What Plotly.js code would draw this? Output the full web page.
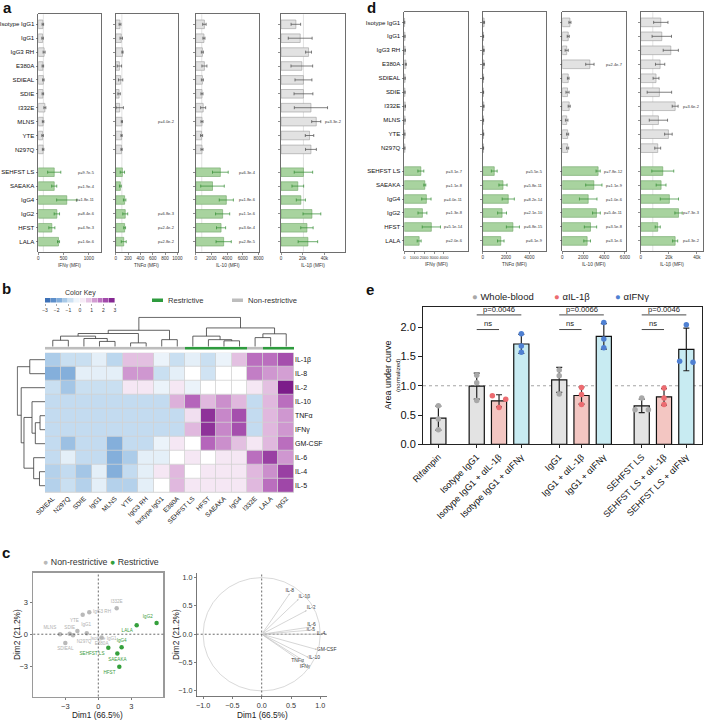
<!DOCTYPE html>
<html><head><meta charset="utf-8">
<script src="https://cdn.plot.ly/plotly-3.0.1.min.js"></script>
<style>html,body{margin:0;padding:0;background:#fff;}#chart{width:705px;height:721px;}</style>
</head><body><div id="chart"></div>
<script>
// ================= DATA =================
const E = '';
// Panels a & d rows (top to bottom)
const variants = ['Isotype IgG1','IgG1','IgG3 RH','E380A','SDIEAL','SDIE','I332E','MLNS','YTE','N297Q','SEHFST LS','SAEAKA','IgG4','IgG2','HFST','LALA'];
const restrictive = [0,0,0,0,0,0,0,0,0,0,1,1,1,1,1,1];

// Panel a (MFI mean, SD, p-values)
const aIFNg   = [90,85,115,90,100,90,130,95,85,95, 315,315,563,367,268,400];
const aIFNgSD = [15,15,20,15,15,15,20,15,15,15, 130,50,200,53,60,20];
const aIFNgP  = [E,E,E,E,E,E,E,E,E,E,'p=9.7e-5','p=1.9e-4','p=1.8e-11','p=8.4e-6','p=4.9e-3','p=1.6e-6'];
const aTNFa   = [70,90,110,60,80,55,65,100,95,95, 108,76,145,155,145,130];
const aTNFaSD = [15,20,10,35,35,20,60,10,10,10, 35,15,20,40,15,40];
const aTNFaP  = [E,E,E,E,E,E,E,'p=4.0e-2',E,E, E,E,E,'p=6.8e-3','p=2.4e-2','p=2.8e-2'];
const aIL10   = [1110,1050,850,1110,850,800,950,800,750,800, 3140,2140,3900,3430,3230,3560];
const aIL10SD = [220,130,130,320,130,130,320,130,130,130, 1000,1500,900,900,580,970];
const aIL10P  = [E,E,E,E,E,E,E,E,E,E,'p=6.3e-4',E,'p=1.8e-6','p=1.1e-6','p=3.6e-4','p=2.8e-5'];
const aIL1b   = [13700,17700,25400,19200,20700,20700,27600,32500,26300,27600, 20700,15500,18300,28500,23900,24800];
const aIL1bSD = [4400,11000,2700,10000,7800,8700,15300,4200,3900,5000, 8500,5400,4200,8200,5700,9000];
const aIL1bP  = [E,E,E,E,E,E,E,'p=3.3e-2',E,E, E,E,E,E,E,E];

// Panel d
const dIFNg   = [30,60,80,150,70,60,90,70,50,50, 1670,2070,2230,1830,2730,1500];
const dIFNgSD = [20,20,30,60,20,20,30,20,20,20, 300,100,470,450,920,200];
const dIFNgP  = [E,E,E,E,E,E,E,E,E,E,'p=3.1e-7','p=1.1e-8','p=4.0e-11','p=1.3e-8','p=5.1e-14','p=2.0e-6'];
const dTNFa   = [120,60,100,110,60,60,90,60,70,60, 990,1740,2190,1660,2590,1550];
const dTNFaSD = [40,20,30,40,20,20,30,20,20,20, 250,350,520,380,560,280];
const dTNFaP  = [E,E,E,E,E,E,E,E,E,E,'p=5.5e-5','p=5.8e-11','p=8.2e-14','p=2.1e-10','p=6.8e-15','p=6.1e-9'];
const dIL10   = [730,570,420,2640,570,500,660,420,510,510, 3430,3020,2480,3270,2700,2380];
const dIL10SD = [100,100,150,400,80,150,100,120,100,100, 200,780,840,370,590,320];
const dIL10P  = [E,E,E,'p=2.4e-7',E,E,E,E,E,E,'p=7.8e-12','p=1.1e-9','p=1.0e-6','p=5.4e-11','p=3.5e-8','p=3.1e-6'];
const dIL1b   = [14300,15000,21400,13800,10900,13300,24500,12600,19700,12100, 15700,14500,20400,26900,12100,24500];
const dIL1bSD = [5100,6900,5400,3300,2100,8700,2100,6500,2700,2100, 7800,3500,6500,2600,1800,1800];
const dIL1bP  = [E,E,E,E,E,E,'p=3.6e-2',E,E,E, E,E,E,'p=7.3e-3',E,'p=4.3e-2'];

// reference (control) lines
const refA = [100, 100, 770, 20700];
const refD = [null, null, null, 8600];

// x tick values
const ticksIFNgA = [0,500,1000], ticksTNFaA = [0,200,400,600,800,1000], ticksIL10A = [0,2000,4000,6000,8000], ticksIL1bA = [0,20000,40000];
const ticksIFNgD = [0,1000,2000,3000,4000], ticksTNFaD = [0,2000,4000], ticksIL10D = [0,2000,4000,6000], ticksIL1bD = [0,20000,40000];

// Panel b heatmap (z-scores)
const hmCols = ['SDIEAL','N297Q','SDIE','IgG1','MLNS','YTE','IgG3 RH','Isotype IgG1','E380A','SEHFST LS','HFST','SAEAKA','IgG4','I332E','LALA','IgG2'];
const hmGroup = [0,0,0,0,0,0,0,0,0,1,1,1,1,0,1,1];
const hmRows = ['IL-1β','IL-8','IL-2','IL-10','TNFα','IFNγ','GM-CSF','IL-6','IL-4','IL-5'];
const hmZ = [
 [-1.2,-0.8,-0.8,-0.4,-1.0, 0.8, 0.8,-0.3,-0.8,-0.4,-0.8,-0.3, 0.8, 1.8, 1.8, 2.2],
 [-1.7,-1.7,-0.4,-0.4,-0.4, 1.3, 1.3,-0.8,-0.4, 0.0,-0.7, 0.0, 0.0, 1.6, 1.3, 1.2],
 [-0.8,-1.3,-0.8,-0.8,-0.8, 0.3, 0.3,-0.3, 0.3,-0.3, 0.0, 0.0, 0.0, 0.3, 0.8, 2.9],
 [-0.9,-0.9,-0.9,-0.9,-0.9,-0.9,-0.9,-0.9, 1.0, 1.9, 0.9, 1.4, 0.9,-0.9, 0.9, 1.8],
 [-0.9,-0.9,-0.9,-0.9,-0.9,-0.9,-0.9,-0.9,-0.9, 0.4, 2.6, 1.5, 2.2,-0.9, 0.9, 1.3],
 [-0.9,-0.9,-0.9,-0.9,-0.9,-0.9,-0.9,-0.9,-0.9, 0.9, 2.6, 1.5, 2.2,-0.9, 0.9, 1.3],
 [-0.9,-1.4,-0.9,-0.9,-1.7,-0.9,-0.9,-0.3, 0.3, 0.0, 1.9, 1.4, 0.8, 0.3, 0.9, 1.8],
 [-0.9,-0.4,-0.9,-0.9,-1.7,-1.2,-0.4,-0.4, 0.0, 0.3, 0.0, 0.3, 0.3, 1.8, 2.4, 1.3],
 [-1.1,-0.9,-1.3,-0.4,-1.7,-0.9,-0.4, 0.3, 0.9, 0.0, 0.3, 0.3, 0.3, 0.9, 1.4, 2.4],
 [-1.1,-0.8,-1.1,-0.4,-1.1,-1.1,-0.4, 0.0, 0.9, 0.3, 0.3, 0.3, 0.3, 0.9, 1.8, 2.3]
];
// dendrograms: [childA, childB, height]; leaves 0..n-1, merges n+k
const colMerges = [[3,4,0.18],[0,1,0.22],[2,16,0.28],[17,18,0.36],[5,6,0.13],[7,8,0.24],[19,20,0.45],[22,21,0.56],
                   [11,12,0.2],[10,24,0.24],[9,25,0.36],[13,14,0.31],[27,15,0.44],[26,28,0.64],[23,29,1.0]];
const rowMerges = [[4,5,0.18],[10,6,0.35],[3,11,0.47],[8,9,0.2],[7,13,0.41],[12,14,0.76],[2,15,0.86],[0,1,0.55],[17,16,1.0]];
const keyLevels = [-2.75,-2.25,-1.75,-1.25,-0.75,-0.25,0.25,0.75,1.25,1.75,2.25,2.75];
const keyTicks = [-3,-2,-1,0,1,2,3];

// Panel c: PCA
const pcaNames = ['I332E','IgG3 RH','YTE','IgG1','MLNS','SDIE','N297Q','Isotype IgG1','SDIEAL','E380A','IgG2','LALA','IgG4','SEHFST LS','SAEAKA','HFST'];
const pcaGroup = [0,0,0,0,0,0,0,0,0,0,1,1,1,1,1,1];
const pcaDim1 = [1.67,-0.82,-1.42,-1.9,-3.48,-2.6,-2.3,-1.05,-3.0,0.3, 5.3,3.49,2.12,0.91,1.73,1.91];
const pcaDim2 = [2.42,2.06,1.82,0.3,0.0,0.05,-0.1,0.1,-0.82,-0.3, 1.06,0.85,-1.21,-1.27,-1.79,-3.03];
const loadNames = ['IL-8','IL-1β','IL-2','IL-6','IL-5','IL-4','GM-CSF','IL-10','TNFα','IFNγ'];
const loadDim1 = [0.48,0.63,0.77,0.85,0.91,0.94,0.94,0.80,0.72,0.74];
const loadDim2 = [0.72,0.62,0.42,0.13,0.08,0.0,-0.27,-0.41,-0.47,-0.53];
const c1Ticks = [-3,0,3], c2Ticks = [-1,-0.5,0,0.5,1];

// Panel e
const eAntibody  = ['Rifampin','Isotype IgG1','Isotype IgG1','Isotype IgG1','IgG1','IgG1','IgG1','SEHFST LS','SEHFST LS','SEHFST LS'];
const eTreatment = ['Whole-blood','Whole-blood','αIL-1β','αIFNγ','Whole-blood','αIL-1β','αIFNγ','Whole-blood','αIL-1β','αIFNγ'];
const ePoints = [[0.66,0.43,0.25],[1.18,1.05,0.75],[0.83,0.63,0.77],[1.89,1.68,1.57],[1.27,1.17,0.86],
                 [0.97,0.85,0.68],[2.08,1.80,1.65],[0.79,0.59,0.59],[0.96,0.79,0.68],[2.04,1.42,1.40]];
const cmpAntibody = ['Isotype IgG1','IgG1','SEHFST LS'];
const cmpP = ['p=0.0046','p=0.0066','p=0.0046'];
const cmpNs = ['ns','ns','ns'];
const eTicks = [0,0.5,1,1.5,2];

// ================= BUILD =================
const W = 705, H = 721;
const FONT = 'Arial, "Liberation Sans", Helvetica, sans-serif';
const xd = (a,b) => [a/W, b/W];
const yd = (t,b) => [1-b/H, 1-t/H];
const px = x => x/W, py = y => 1-y/H;
const traces = [], annotations = [], shapes = [];
const layout = {width:W, height:H, margin:{l:0,r:0,t:0,b:0}, paper_bgcolor:'#fff', plot_bgcolor:'rgba(0,0,0,0)',
  font:{family:FONT, color:'#222'}, showlegend:false, barmode:'overlay', hovermode:false, annotations, shapes};
const ax = n => n===1 ? '' : String(n);
function ann(o){ const f = Object.assign({family:FONT,size:7,color:'#222'}, o.font||{}); annotations.push(Object.assign({showarrow:false}, o, {font:f})); }

// ---- panels a & d ----
const rowPos = variants.map((_, i) => i < 10 ? i : i + 0.64);
const yRange = [16.36, -0.72];
const panels = [
 {n:1, v:aIFNg, sd:aIFNgSD, p:aIFNgP, r:[0,1240], t:ticksIFNgA, title:'IFNγ (MFI)', box:[38.3,101,14.3,251.7], lab:true, pR:0.93, ref:refA[0]},
 {n:2, v:aTNFa, sd:aTNFaSD, p:aTNFaP, r:[0,1010], t:ticksTNFaA, title:'TNFα (MFI)', box:[115.7,178,14.3,251.7], pR:0.985, ref:refA[1]},
 {n:3, v:aIL10, sd:aIL10SD, p:aIL10P, r:[0,8100], t:ticksIL10A, title:'IL-10 (MFI)', box:[195.7,259.3,14.3,251.7], pR:0.985, ref:refA[2]},
 {n:4, v:aIL1b, sd:aIL1bSD, p:aIL1bP, r:[0,59000], t:ticksIL1bA, title:'IL-1β (MFI)', box:[281,345,14.3,251.7], pR:0.985, ref:refA[3]},
 {n:5, v:dIFNg, sd:dIFNgSD, p:dIFNgP, r:[0,6400], t:ticksIFNgD, title:'IFNγ (MFI)', box:[404.3,467.7,12.3,251], lab:true, pR:0.96, ref:refD[0], tf:4},
 {n:6, v:dTNFa, sd:dTNFaSD, p:dTNFaP, r:[0,5400], t:ticksTNFaD, title:'TNFα (MFI)', box:[482.7,545.7,12.3,251], pR:0.985, ref:refD[1]},
 {n:7, v:dIL10, sd:dIL10SD, p:dIL10P, r:[0,6100], t:ticksIL10D, title:'IL-10 (MFI)', box:[562.3,626,12.3,251], pR:0.985, ref:refD[2]},
 {n:8, v:dIL1b, sd:dIL1bSD, p:dIL1bP, r:[0,44300], t:ticksIL1bD, title:'IL-1β (MFI)', box:[640.7,703,12.3,251], pR:0.99, ref:refD[3]}
];
panels.forEach(P => {
  const xa = 'x'+ax(P.n), ya = 'y'+ax(P.n);
  const groups = [[0,'#e2e2e2','#9c9c9c','#4a4a4a'],[1,'#a8d39f','#6ea566','#2f8a2f']];
  groups.forEach(([g,fill,line,err]) => {
    const ids = variants.map((_,i)=>i).filter(i => restrictive[i]===g);
    traces.push({type:'bar', orientation:'h', x:ids.map(i=>P.v[i]), y:ids.map(i=>rowPos[i]), width:0.62,
      marker:{color:fill, line:{color:line, width:0.6}},
      error_x:{type:'data', array:ids.map(i=>P.sd[i]), color:err, thickness:0.7, width:1.5},
      xaxis:xa, yaxis:ya, hoverinfo:'skip'});
  });
  layout['xaxis'+ax(P.n)] = {domain:xd(P.box[0],P.box[1]), range:P.r, tickvals:P.t, tickangle:0, ticks:'outside', ticklen:2, tickwidth:0.6,
    tickcolor:'#444', tickfont:{size:P.tf||4.6,color:'#333'}, showline:true, mirror:true, linecolor:'#4a4a4a', linewidth:0.8,
    showgrid:false, zeroline:false, anchor:ya, fixedrange:true};
  layout['yaxis'+ax(P.n)] = {domain:yd(P.box[2],P.box[3]), range:yRange, tickvals:rowPos, ticktext:variants,
    showticklabels:!!P.lab, ticks:'outside', ticklen:2, tickwidth:0.6, tickcolor:'#444', tickfont:{size:6.1,color:'#111'},
    showline:true, mirror:true, linecolor:'#4a4a4a', linewidth:0.8, showgrid:false, zeroline:false, anchor:xa, fixedrange:true};
  if (P.ref != null) shapes.push({type:'line', xref:xa, yref:ya+' domain', x0:P.ref, x1:P.ref, y0:0, y1:1, line:{color:'#dcdcdc', width:0.8}, layer:'below'});
  P.p.forEach((s,i) => { if (s) ann({xref:xa+' domain', yref:ya, x:P.pR, y:rowPos[i], xanchor:'right', yanchor:'middle', text:s, font:{size:4,color:'#333'}}); });
  ann({xref:'paper', yref:'paper', x:px((P.box[0]+P.box[1])/2), y:py(P.n<=4?265.5:264), xanchor:'center', yanchor:'middle', text:P.title, font:{size:4.8,color:'#333'}});
});

// ---- panel b ----
const hmColorscale = [[0,'#2f62ad'],[1/6,'#6c9ed3'],[2/6,'#bcd7ee'],[0.5,'#ffffff'],[4/6,'#dcb0da'],[5/6,'#b15db7'],[1,'#761585']];
const colIdx = hmCols.map((_,i)=>i), rowIdx = hmRows.map((_,i)=>i);
shapes.push({type:'rect', xref:'x9 domain', yref:'y9 domain', x0:0, x1:1, y0:0, y1:1, fillcolor:'#d2d2d2', line:{width:0}, layer:'below'});
traces.push({type:'heatmap', z:hmZ, x:colIdx, y:rowIdx, colorscale:hmColorscale, zmin:-3, zmax:3, showscale:false, xgap:0.8, ygap:0.8, xaxis:'x9', yaxis:'y9', hoverinfo:'skip'});
layout.xaxis9 = {domain:xd(45,294), range:[-0.5,15.5], tickvals:colIdx, ticktext:hmCols, tickangle:-45, ticks:'', tickfont:{size:6.5,color:'#111'}, showline:false, showgrid:false, zeroline:false, anchor:'y9', fixedrange:true};
layout.yaxis9 = {domain:yd(352.7,492.7), range:[9.5,-0.5], tickvals:rowIdx, ticktext:hmRows, side:'right', ticks:'', tickfont:{size:7,color:'#111'}, showline:false, showgrid:false, zeroline:false, anchor:'x9', fixedrange:true};

function dendro(merges, n){
  const pos = [], ht = [], P = [], Hh = [];
  for (let i=0;i<n;i++){ pos[i]=i; ht[i]=0; }
  merges.forEach(([a,b,h],k) => {
    const id = n+k; pos[id] = (pos[a]+pos[b])/2; ht[id] = h;
    P.push(pos[a],pos[a],pos[b],pos[b],null); Hh.push(ht[a],h,h,ht[b],null);
  });
  return {P, Hh};
}
const cd = dendro(colMerges, hmCols.length);
traces.push({type:'scatter', mode:'lines', x:cd.P, y:cd.Hh, line:{color:'#3a3a3a', width:0.8}, xaxis:'x10', yaxis:'y10', hoverinfo:'skip'});
layout.xaxis10 = {domain:xd(45,294), range:[-0.5,15.5], visible:false, anchor:'y10', fixedrange:true};
layout.yaxis10 = {domain:yd(316.5,346.7), range:[0,1.03], visible:false, anchor:'x10', fixedrange:true};
const rd = dendro(rowMerges, hmRows.length);
traces.push({type:'scatter', mode:'lines', x:rd.Hh, y:rd.P, line:{color:'#3a3a3a', width:0.8}, xaxis:'x12', yaxis:'y12', hoverinfo:'skip'});
layout.xaxis12 = {domain:xd(16.5,45), range:[1.03,0], visible:false, anchor:'y12', fixedrange:true};
layout.yaxis12 = {domain:yd(352.7,492.7), range:[9.5,-0.5], visible:false, anchor:'x12', fixedrange:true};
// group bar
traces.push({type:'heatmap', z:[hmGroup], x:colIdx, y:[0], colorscale:[[0,'#bdbdbd'],[1,'#2e9b3e']], zmin:0, zmax:1, showscale:false, xaxis:'x11', yaxis:'y11', hoverinfo:'skip'});
layout.xaxis11 = {domain:xd(45,294), range:[-0.5,15.5], visible:false, anchor:'y11', fixedrange:true};
layout.yaxis11 = {domain:yd(346.7,349.8), range:[-0.5,0.5], visible:false, anchor:'x11', fixedrange:true};
// color key
traces.push({type:'heatmap', z:[keyLevels], x:keyLevels, y:[0], colorscale:hmColorscale, zmin:-3, zmax:3, showscale:false, xgap:0.4, xaxis:'x13', yaxis:'y13', hoverinfo:'skip'});
layout.xaxis13 = {domain:xd(45,115), range:[-3,3], tickvals:keyTicks, tickangle:0, ticks:'outside', ticklen:2, tickwidth:0.5, tickcolor:'#555', tickfont:{size:5,color:'#333'}, showline:false, showgrid:false, zeroline:false, anchor:'y13', fixedrange:true};
layout.yaxis13 = {domain:yd(298,302.5), range:[-0.5,0.5], visible:false, anchor:'x13', fixedrange:true};
ann({xref:'paper', yref:'paper', x:px(80), y:py(292.5), text:'Color Key', xanchor:'center', yanchor:'middle', font:{size:7,color:'#333'}});
shapes.push({type:'rect', xref:'paper', yref:'paper', x0:px(152), x1:px(163), y0:py(302), y1:py(298.5), fillcolor:'#2e9b3e', line:{width:0}});
ann({xref:'paper', yref:'paper', x:px(166), y:py(300.3), text:'Restrictive', xanchor:'left', yanchor:'middle', font:{size:7.6,color:'#333'}});
shapes.push({type:'rect', xref:'paper', yref:'paper', x0:px(232), x1:px(243), y0:py(302), y1:py(298.5), fillcolor:'#bdbdbd', line:{width:0}});
ann({xref:'paper', yref:'paper', x:px(246), y:py(300.3), text:'Non-restrictive', xanchor:'left', yanchor:'middle', font:{size:7.6,color:'#333'}});

// ---- panel c1 ----
const c1Pos = {'I332E':'top center','IgG3 RH':'middle right','YTE':'bottom left','IgG1':'top right','MLNS':'top left','SDIE':'top center',
  'N297Q':'bottom right','Isotype IgG1':'bottom right','SDIEAL':'bottom center','E380A':'bottom center',
  'IgG2':'top left','LALA':'bottom left','IgG4':'top center','SEHFST LS':'bottom left','SAEAKA':'bottom center','HFST':'bottom left'};
[[0,'#b9b9b9','#b0b0b0'],[1,'#34a03c','#3b9b3b']].forEach(([g,mc,tc]) => {
  const ids = pcaNames.map((_,i)=>i).filter(i=>pcaGroup[i]===g);
  traces.push({type:'scatter', mode:'markers+text', x:ids.map(i=>pcaDim1[i]), y:ids.map(i=>pcaDim2[i]), text:ids.map(i=>pcaNames[i]),
    textposition:ids.map(i=>c1Pos[pcaNames[i]]), textfont:{size:4.6,color:tc,family:FONT}, marker:{color:mc, size:4.5},
    xaxis:'x14', yaxis:'y14', hoverinfo:'skip', cliponaxis:false});
});
const cBottom = 696.5;
layout.xaxis14 = {domain:xd(33.3,163.3), range:[-5.91,5.91], tickvals:c1Ticks, tickangle:0, ticks:'outside', ticklen:2, tickwidth:0.7, tickcolor:'#444', tickfont:{size:7.5,color:'#333'}, showline:true, mirror:true, linecolor:'#9a9a9a', linewidth:1.8, showgrid:false, zeroline:false, anchor:'y14', fixedrange:true};
layout.yaxis14 = {domain:yd(572.7,cBottom), range:[-5.82,5.75], tickvals:c1Ticks, ticks:'outside', ticklen:2, tickwidth:0.7, tickcolor:'#444', tickfont:{size:7.5,color:'#333'}, showline:true, mirror:true, linecolor:'#9a9a9a', linewidth:1.8, showgrid:false, zeroline:false, anchor:'x14', fixedrange:true};
shapes.push({type:'line', xref:'x14', yref:'y14 domain', x0:0, x1:0, y0:0, y1:1, line:{color:'#444', width:0.8, dash:'2px,2px'}});
shapes.push({type:'line', xref:'x14 domain', yref:'y14', x0:0, x1:1, y0:0, y1:0, line:{color:'#444', width:0.8, dash:'2px,2px'}});
ann({xref:'paper', yref:'paper', x:px(97), y:py(714.5), text:'Dim1 (66.5%)', xanchor:'center', yanchor:'middle', font:{size:8.3,color:'#222'}});
ann({xref:'paper', yref:'paper', x:px(17), y:py(635), text:'Dim2 (21.2%)', textangle:-90, xanchor:'center', yanchor:'middle', font:{size:8.3,color:'#222'}});
ann({xref:'paper', yref:'paper', x:px(41), y:py(562), text:'<span style="color:#b9b9b9">●</span> Non-restrictive <span style="color:#34a03c">●</span> Restrictive', xanchor:'left', yanchor:'middle', font:{size:8.8,color:'#333'}});

// ---- panel c2 ----
shapes.push({type:'circle', xref:'x15', yref:'y15', x0:-1, x1:1, y0:-1, y1:1, line:{color:'#cfcfcf', width:0.8}});
shapes.push({type:'line', xref:'x15', yref:'y15 domain', x0:0, x1:0, y0:0, y1:1, line:{color:'#444', width:0.8, dash:'2px,2px'}});
shapes.push({type:'line', xref:'x15 domain', yref:'y15', x0:0, x1:1, y0:0, y1:0, line:{color:'#444', width:0.8, dash:'2px,2px'}});
loadNames.forEach((nm,i) => {
  annotations.push({xref:'x15', yref:'y15', axref:'x15', ayref:'y15', x:loadDim1[i], y:loadDim2[i], ax:0, ay:0, text:'', showarrow:true,
    arrowhead:2, arrowsize:0.5, arrowwidth:0.7, arrowcolor:'#c4c4c4'});
});
const c2Pos = {'IL-8':'top center','IL-1β':'top right','IL-2':'top right','IL-6':'top center','IL-5':'middle left','IL-4':'middle right',
  'GM-CSF':'middle right','IL-10':'middle right','TNFα':'middle left','IFNγ':'bottom center'};
traces.push({type:'scatter', mode:'text', x:loadDim1, y:loadDim2, text:loadNames, textposition:loadNames.map(n=>c2Pos[n]),
  textfont:{size:5,color:'#333',family:FONT}, xaxis:'x15', yaxis:'y15', hoverinfo:'skip', cliponaxis:false});
layout.xaxis15 = {domain:xd(196.7,326.7), range:[-1.109,1.109], tickvals:c2Ticks, tickformat:'.1f', tickangle:0, ticks:'outside', ticklen:2, tickwidth:0.7, tickcolor:'#444', tickfont:{size:7.2,color:'#333'}, showline:true, linecolor:'#555', linewidth:0.8, showgrid:false, zeroline:false, anchor:'y15', fixedrange:true};
layout.yaxis15 = {domain:yd(573,cBottom), range:[-1.098,1.08], tickvals:c2Ticks, tickformat:'.1f', ticks:'outside', ticklen:2, tickwidth:0.7, tickcolor:'#444', tickfont:{size:7.2,color:'#333'}, showline:true, linecolor:'#555', linewidth:0.8, showgrid:false, zeroline:false, anchor:'x15', fixedrange:true};
ann({xref:'paper', yref:'paper', x:px(262), y:py(714.5), text:'Dim1 (66.5%)', xanchor:'center', yanchor:'middle', font:{size:8.3,color:'#222'}});
ann({xref:'paper', yref:'paper', x:px(176), y:py(635), text:'Dim2 (21.2%)', textangle:-90, xanchor:'center', yanchor:'middle', font:{size:8.3,color:'#222'}});

// ---- panel e ----
const eColors = {'Whole-blood':{bar:'#e3e3e3', pt:'#a8a8a8'}, 'αIL-1β':{bar:'#f3c6c2', pt:'#ec6b70'}, 'αIFNγ':{bar:'#c8ebf2', pt:'#4f80d2'}};
const eLabels = eAntibody.map((a,i) => eTreatment[i]==='Whole-blood' ? a : a + ' + ' + eTreatment[i]);
const ePos = []; { let g=-1, k=0, prev=null;
  eAntibody.forEach((a,i) => { if (a!==prev){ g++; k=0; prev=a; } else k++; ePos.push(g===0 ? 0 : 1.72 + (g-1)*3.7 + k); }); }
const eMean = ePoints.map(p => p.reduce((s,v)=>s+v,0)/p.length);
const eSD = ePoints.map((p,i) => Math.sqrt(p.reduce((s,v)=>s+(v-eMean[i])**2,0)/(p.length-1)));
traces.push({type:'bar', x:ePos, y:eMean, width:0.68, marker:{color:eTreatment.map(t=>eColors[t].bar), line:{color:'#111', width:1.2}},
  error_y:{type:'data', array:eSD, color:'#222', thickness:1.2, width:3}, xaxis:'x16', yaxis:'y16', hoverinfo:'skip'});
Object.keys(eColors).forEach(t => {
  const xs=[], ys=[];
  ePoints.forEach((pts,i) => { if (eTreatment[i]!==t) return;
    pts.forEach((v,j) => { let off = 0; const close = pts.findIndex((w,m)=>m!==j && Math.abs(w-v)<0.08);
      if (close>=0) off = close > j ? -0.3 : 0.3; xs.push(ePos[i]+off); ys.push(v); }); });
  traces.push({type:'scatter', mode:'markers', x:xs, y:ys, marker:{color:eColors[t].pt, size:5.5}, xaxis:'x16', yaxis:'y16', hoverinfo:'skip', cliponaxis:false});
});
layout.xaxis16 = {domain:xd(423,701.7), range:[-0.69,11.81], tickvals:ePos, ticktext:eLabels, tickangle:-45, ticks:'outside', ticklen:3, tickwidth:1, tickcolor:'#222', tickfont:{size:9,color:'#111'}, showline:true, mirror:true, linecolor:'#222', linewidth:1, showgrid:false, zeroline:false, anchor:'y16', fixedrange:true};
layout.yaxis16 = {domain:yd(306.7,444.3), range:[0,2.35], tickvals:eTicks, tickformat:'.1f', ticks:'outside', ticklen:4, tickwidth:1, tickcolor:'#222', tickfont:{size:11,color:'#111'}, showline:true, mirror:true, linecolor:'#222', linewidth:1, showgrid:false, zeroline:false, anchor:'x16', fixedrange:true};
shapes.push({type:'line', xref:'x16 domain', yref:'y16', x0:0, x1:1, y0:1, y1:1, line:{color:'#9a9a9a', width:0.9, dash:'dot'}, layer:'below'});
cmpAntibody.forEach((a,c) => {
  const ids = eAntibody.map((_,i)=>i).filter(i=>eAntibody[i]===a);
  const x0 = ePos[ids[0]], x1 = ePos[ids[ids.length-1]], xm = ePos[ids[1]];
  shapes.push({type:'line', xref:'x16', yref:'y16', x0:x0, x1:x1, y0:2.21, y1:2.21, line:{color:'#333', width:0.9}});
  ann({xref:'x16', yref:'y16', x:(x0+x1)/2, y:2.21, yanchor:'bottom', xanchor:'center', text:cmpP[c], font:{size:7.6,color:'#222'}, yshift:-1});
  shapes.push({type:'line', xref:'x16', yref:'y16', x0:x0, x1:xm, y0:1.96, y1:1.96, line:{color:'#333', width:0.9}});
  ann({xref:'x16', yref:'y16', x:(x0+xm)/2, y:1.96, yanchor:'bottom', xanchor:'center', text:cmpNs[c], font:{size:7.6,color:'#222'}, yshift:0});
});
ann({xref:'paper', yref:'paper', x:px(387), y:py(375.5), text:'Area under curve', textangle:-90, xanchor:'center', yanchor:'middle', font:{size:9,color:'#111'}});
ann({xref:'paper', yref:'paper', x:px(397.5), y:py(375.5), text:'(normalized)', textangle:-90, xanchor:'center', yanchor:'middle', font:{size:6,color:'#111'}});
const eLeg = [['Whole-blood',470],['αIL-1β',552],['αIFNγ',613]];
eLeg.forEach(([t,x]) => ann({xref:'paper', yref:'paper', x:px(x), y:py(296), xanchor:'left', yanchor:'middle',
  text:'<span style="color:'+eColors[t].pt+'">●</span> '+t, font:{size:9.5,color:'#222'}}));

// ---- panel letters ----
[['a',1,8],['d',365,8],['b',0,288],['c',0,552],['e',364,289]].forEach(([l,x,y]) =>
  ann({xref:'paper', yref:'paper', x:px(x), y:py(y), text:'<b>'+l+'</b>', xanchor:'left', yanchor:'middle', font:{size:15,color:'#111'}}));

Plotly.newPlot('chart', traces, layout, {displayModeBar:false, staticPlot:true});
</script></body></html>
